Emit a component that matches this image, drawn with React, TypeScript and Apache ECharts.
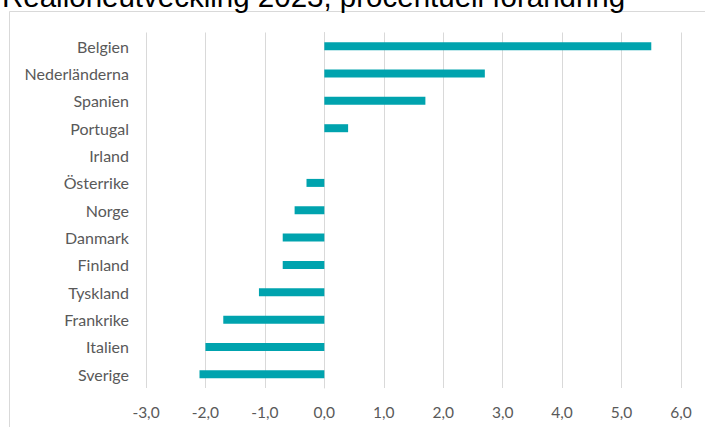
import React, { useEffect, useRef } from "react";
import * as echarts from "echarts";

const titleText = "Reallöneutveckling 2023, procentuell förändring";
const countries = [
  "Belgien",
  "Nederländerna",
  "Spanien",
  "Portugal",
  "Irland",
  "Österrike",
  "Norge",
  "Danmark",
  "Finland",
  "Tyskland",
  "Frankrike",
  "Italien",
  "Sverige",
];
const changes = [5.5, 2.7, 1.7, 0.4, 0.0, -0.3, -0.5, -0.7, -0.7, -1.1, -1.7, -2.0, -2.1];
const axisMin = -3;
const axisMax = 6;
const axisStep = 1;

export default function App() {
  const ref = useRef<HTMLDivElement>(null);
  useEffect(() => {
    if (!ref.current) return;
    const chart = echarts.init(ref.current, null, { renderer: "svg" });
    const labelFont = "Lato, 'Noto Sans', sans-serif";
    chart.setOption({
      animation: false,
      backgroundColor: "#ffffff",
      graphic: [
        {
          type: "rect",
          shape: { x: 9.5, y: 11.5, width: 710, height: 430 },
          style: { fill: "none", stroke: "#d9d9d9", lineWidth: 1 },
          silent: true,
        },
        {
          type: "text",
          x: 2,
          y: -3.8,
          style: {
            text: titleText,
            font: "29.5px 'Liberation Sans', Arial, sans-serif",
            fill: "#000000",
            align: "left",
            verticalAlign: "middle",
          },
          silent: true,
        },
      ],
      grid: { left: 146, right: 24, top: 32.5, bottom: 39, containLabel: false },
      xAxis: {
        type: "value",
        min: axisMin,
        max: axisMax,
        interval: axisStep,
        axisLine: { show: false },
        axisTick: { show: false },
        splitLine: { show: true, lineStyle: { color: "#d9d9d9", width: 1 } },
        axisLabel: {
          color: "#595959",
          fontFamily: labelFont,
          fontSize: 15.5,
          margin: 16,
          formatter: (v: number) => v.toFixed(1).replace(".", ","),
        },
      },
      yAxis: {
        type: "category",
        data: countries,
        inverse: true,
        axisLine: { show: true, lineStyle: { color: "#d9d9d9", width: 1 } },
        axisTick: { show: false },
        axisLabel: {
          color: "#595959",
          fontFamily: labelFont,
          fontSize: 16,
          margin: 17,
        },
      },
      series: [
        {
          type: "bar",
          data: changes,
          barWidth: 8,
          itemStyle: { color: "#00a3ae" },
        },
      ],
    });
    return () => chart.dispose();
  }, []);
  return (
    <div
      ref={ref}
      style={{ position: "fixed", left: 0, top: 0, width: 705, height: 427 }}
    />
  );
}
